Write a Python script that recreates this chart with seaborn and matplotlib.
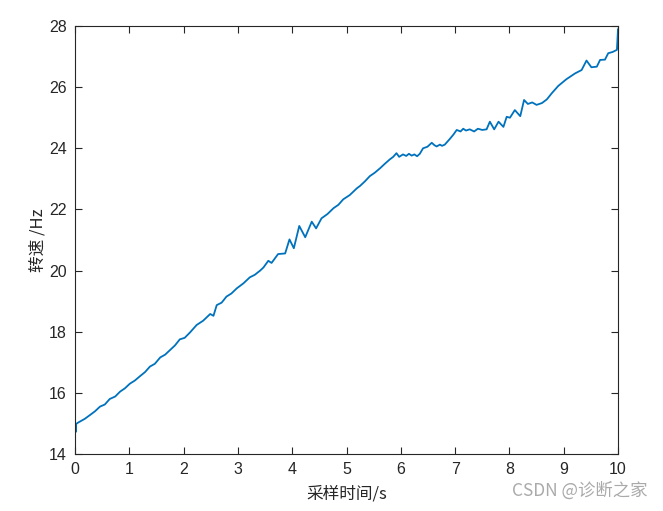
import matplotlib
matplotlib.use("Agg")
import matplotlib.pyplot as plt
import seaborn as sns
import pandas as pd

# sample time (s) and rotating speed (Hz)
time_s = [0.02, 0.02, 0.05, 0.09, 0.18, 0.28, 0.37, 0.46, 0.55, 0.64, 0.74, 0.83, 0.92, 1.01, 1.1,
          1.2, 1.29, 1.38, 1.47, 1.57, 1.66, 1.75, 1.84, 1.93, 2.02, 2.12, 2.24, 2.36, 2.49, 2.55,
          2.61, 2.70, 2.79, 2.88, 2.98, 3.1, 3.22, 3.31, 3.41, 3.47, 3.56, 3.62, 3.74, 3.87, 3.95,
          4.03, 4.13, 4.24, 4.36, 4.44, 4.54, 4.65, 4.76, 4.85, 4.94, 5.06, 5.19, 5.25, 5.34, 5.43,
          5.52, 5.62, 5.71, 5.80, 5.86, 5.92, 5.97, 6.04, 6.1, 6.15, 6.2, 6.25, 6.3, 6.35, 6.41,
          6.49, 6.57, 6.62, 6.66, 6.72, 6.76, 6.81, 6.9, 6.97, 7.03, 7.1, 7.15, 7.2, 7.27, 7.35,
          7.42, 7.5, 7.58, 7.64, 7.72, 7.8, 7.89, 7.95, 8.01, 8.1, 8.2, 8.27, 8.34, 8.42, 8.5,
          8.6, 8.69, 8.78, 8.9, 9.05, 9.21, 9.33, 9.42, 9.51, 9.61, 9.67, 9.76, 9.82, 9.9, 9.98,
          10.0, 10.0]
speed_hz = [14.73, 14.98, 15.02, 15.06, 15.15, 15.28, 15.40, 15.55, 15.62, 15.80, 15.88, 16.04, 16.15, 16.30, 16.40,
            16.55, 16.68, 16.86, 16.95, 17.16, 17.25, 17.40, 17.55, 17.75, 17.80, 17.98, 18.22, 18.36, 18.58, 18.52,
            18.87, 18.95, 19.15, 19.25, 19.42, 19.58, 19.78, 19.86, 20.0, 20.1, 20.32, 20.25, 20.54, 20.56, 21.02,
            20.73, 21.46, 21.09, 21.6, 21.38, 21.71, 21.85, 22.04, 22.15, 22.33, 22.47, 22.69, 22.77, 22.92, 23.09,
            23.2, 23.35, 23.5, 23.64, 23.72, 23.84, 23.72, 23.8, 23.75, 23.82, 23.76, 23.8, 23.74, 23.82, 24.0,
            24.05, 24.18, 24.1, 24.06, 24.12, 24.08, 24.12, 24.3, 24.45, 24.6, 24.55, 24.64, 24.58, 24.62, 24.55,
            24.64, 24.6, 24.62, 24.87, 24.62, 24.87, 24.7, 25.03, 25.0, 25.25, 25.05, 25.58, 25.45, 25.5, 25.42,
            25.48, 25.6, 25.8, 26.04, 26.26, 26.45, 26.56, 26.87, 26.65, 26.67, 26.89, 26.9, 27.11, 27.15, 27.22,
            27.9, 27.3]

x_ticks = list(range(0, 11))
y_ticks = [14, 16, 18, 20, 22, 24, 26, 28]

sns.set_theme(style="ticks")
plt.rcParams['font.family'] = ['Liberation Sans', 'Noto Sans CJK SC', 'DejaVu Sans']
plt.rcParams['xtick.direction'] = 'in'
plt.rcParams['ytick.direction'] = 'in'

df = pd.DataFrame({'t': time_s, 'v': speed_hz})

fig = plt.figure(figsize=(6.63, 5.11), dpi=100)
ax = fig.add_axes([75 / 663, 57 / 511, 543 / 663, 428 / 511])

sns.lineplot(data=df, x='t', y='v', ax=ax, estimator=None, sort=False,
             color='#0072BD', linewidth=1.3)

ax.set_xlim(0, 10)
ax.set_ylim(14, 28)
ax.set_xticks(x_ticks)
ax.set_yticks(y_ticks)
ax.tick_params(axis='both', which='both', direction='in', length=5, width=0.8,
               colors='#262626', labelsize=11.5, top=True, right=True, pad=6)
for side in ['left', 'right', 'top', 'bottom']:
    ax.spines[side].set_visible(True)
    ax.spines[side].set_linewidth(0.8)
    ax.spines[side].set_color('#262626')

ax.set_xlabel('采样时间/s', fontsize=12, color='#262626',
              family=['Noto Sans CJK SC', 'DejaVu Sans'], labelpad=6)
ax.set_ylabel('转速 /Hz', fontsize=12, color='#262626',
              family=['Noto Sans CJK SC', 'DejaVu Sans'], labelpad=2)

fig.text(648 / 663, 1 - 491 / 511, 'CSDN @诊断之家', fontsize=12.5, color='#aaaaaa',
         ha='right', va='center', family=['Noto Sans CJK SC', 'DejaVu Sans'])

fig.savefig('out.png', dpi=100)
